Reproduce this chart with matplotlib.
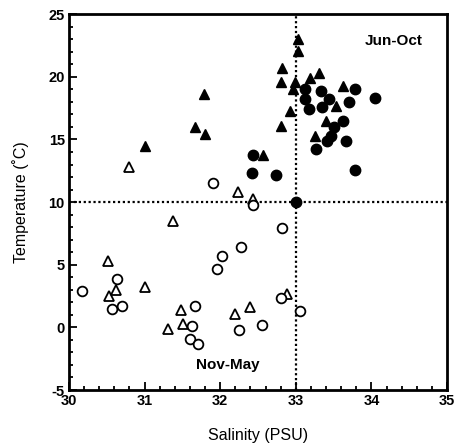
import matplotlib
matplotlib.use("Agg")
import matplotlib.pyplot as plt
from matplotlib.ticker import MultipleLocator

plt.rcParams['font.family'] = ['Liberation Sans', 'DejaVu Sans']
plt.rcParams['axes.unicode_minus'] = False

# Jun-Oct, filled triangles
jt_sal = [31.0, 31.66, 31.78, 31.8, 33.03, 33.03, 32.82, 32.8, 32.99, 32.96, 33.19, 33.31,
          33.63, 33.53, 33.4, 32.92, 32.8, 33.26, 32.56]
jt_tmp = [14.5, 16.0, 18.6, 15.4, 23.0, 22.1, 20.7, 19.6, 19.6, 19.0, 19.9, 20.3,
          19.25, 17.7, 16.5, 17.3, 16.1, 15.3, 13.8]
# Jun-Oct, filled circles
jc_sal = [33.12, 33.33, 33.12, 33.44, 33.34, 33.71, 33.78, 34.05, 33.17, 33.63, 33.5, 33.47,
          33.41, 33.66, 33.27, 33.78, 32.44, 32.42, 32.74, 33.0]
jc_tmp = [19.0, 18.9, 18.2, 18.2, 17.6, 18.0, 19.0, 18.3, 17.4, 16.5, 16.0, 15.3,
          14.9, 14.9, 14.2, 12.55, 13.8, 12.35, 12.15, 10.0]
# Nov-May, open triangles
nt_sal = [30.8, 32.24, 32.43, 31.38, 30.51, 30.53, 30.62, 31.01, 31.31, 31.48, 31.51, 32.19,
          32.39, 32.89]
nt_tmp = [12.8, 10.8, 10.25, 8.5, 5.3, 2.5, 3.0, 3.25, -0.15, 1.4, 0.25, 1.05,
          1.6, 2.7]
# Nov-May, open circles
nc_sal = [31.9, 32.44, 30.17, 30.63, 30.57, 30.7, 31.63, 31.67, 31.6, 31.7, 31.96, 32.02,
          32.28, 32.25, 32.55, 32.82, 32.8, 33.06]
nc_tmp = [11.55, 9.75, 2.9, 3.85, 1.5, 1.7, 0.1, 1.7, -0.95, -1.35, 4.65, 5.7,
          6.45, -0.2, 0.2, 7.9, 2.35, 1.3]

fig = plt.figure(figsize=(4.54, 4.44), dpi=100)
ax = fig.add_axes([0.152, 0.1216, 0.8326, 0.8464])

ax.plot([30, 35], [10, 10], linestyle=(0, (1, 1.2)), color='black', lw=1.6, zorder=1)
ax.plot([33, 33], [-5, 25], linestyle=(0, (1, 1.2)), color='black', lw=1.6, zorder=1)

ms = 7
ax.plot(jt_sal, jt_tmp, '^', color='black', ms=ms, mec='black', ls='none', zorder=3)
ax.plot(jc_sal, jc_tmp, 'o', color='black', ms=ms + 0.5, mec='black', ls='none', zorder=3)
ax.plot(nt_sal, nt_tmp, '^', mfc='white', mec='black', mew=1.3, ms=ms, ls='none', zorder=3)
ax.plot(nc_sal, nc_tmp, 'o', mfc='white', mec='black', mew=1.3, ms=ms, ls='none', zorder=3)

ax.set_xlim(30, 35)
ax.set_ylim(-5, 25)
ax.xaxis.set_major_locator(MultipleLocator(1))
ax.xaxis.set_minor_locator(MultipleLocator(0.2))
ax.yaxis.set_major_locator(MultipleLocator(5))
ax.yaxis.set_minor_locator(MultipleLocator(1))
ax.tick_params(which='both', direction='in', top=False, right=False, width=1.3)
ax.tick_params(which='major', length=6, labelsize=10.5, pad=3)
ax.tick_params(which='minor', length=3)
for lab in ax.get_xticklabels() + ax.get_yticklabels():
    lab.set_fontweight('bold')
for sp in ax.spines.values():
    sp.set_linewidth(2)

ax.set_xlabel('Salinity (PSU)', fontsize=11.5, labelpad=14)
ax.set_ylabel('Temperature (˚C)', fontsize=11.5, labelpad=14)

ax.text(34.3, 22.9, 'Jun-Oct', fontsize=11, fontweight='bold', ha='center', va='center')
ax.text(32.1, -3.0, 'Nov-May', fontsize=11, fontweight='bold', ha='center', va='center')

fig.savefig('out.png', dpi=100)
